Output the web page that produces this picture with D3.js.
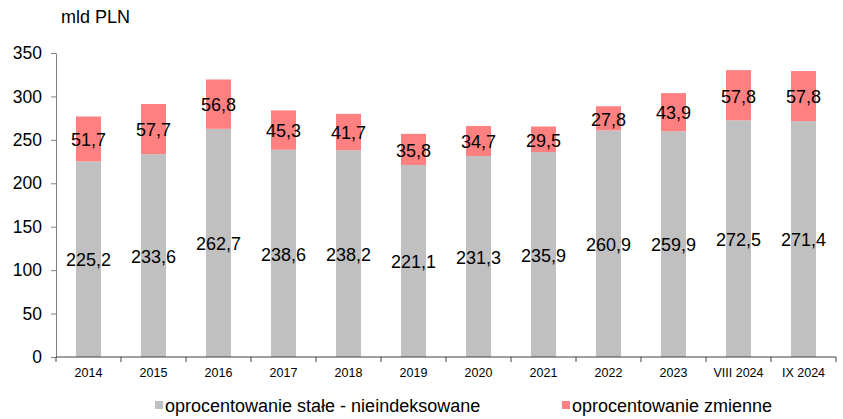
<!DOCTYPE html>
<html>
<head>
<meta charset="utf-8">
<script src="https://cdn.jsdelivr.net/npm/d3@7"></script>
<style>
  body { margin: 0; background: #fff; }
  svg { font-family: "Liberation Sans", Arial, sans-serif; }
</style>
</head>
<body>
<div id="chart"></div>
<script>
const categories = ["2014", "2015", "2016", "2017", "2018", "2019", "2020", "2021", "2022", "2023", "VIII 2024", "IX 2024"];
const fixedRate = [225.2, 233.6, 262.7, 238.6, 238.2, 221.1, 231.3, 235.9, 260.9, 259.9, 272.5, 271.4];
const variableRate = [51.7, 57.7, 56.8, 45.3, 41.7, 35.8, 34.7, 29.5, 27.8, 43.9, 57.8, 57.8];
const yTicks = [0, 50, 100, 150, 200, 250, 300, 350];
const seriesNames = ["oprocentowanie stałe - nieindeksowane", "oprocentowanie zmienne"];
const colors = ["#c0c0c0", "#ff8080"];

const W = 843, H = 419;
const margin = { top: 53, right: 7, bottom: 62, left: 56 };

const svg = d3.select("#chart").append("svg")
  .attr("width", W).attr("height", H);

const x = d3.scaleBand()
  .domain(categories)
  .range([margin.left, W - margin.right])
  .paddingInner(0.615).paddingOuter(0.3075);

const y = d3.scaleLinear().domain([0, 350]).range([H - margin.bottom, margin.top]);

const fmt = (v) => v.toFixed(1).replace(".", ",");

const rows = categories.map((c, i) => ({ cat: c, a: fixedRate[i], b: variableRate[i] }));

// grey segment
svg.selectAll("rect.fixed").data(rows).enter().append("rect")
  .attr("class", "fixed")
  .attr("x", (d) => x(d.cat))
  .attr("width", x.bandwidth())
  .attr("y", (d) => y(d.a))
  .attr("height", (d) => y(0) - y(d.a))
  .attr("fill", colors[0]);

// pink segment
svg.selectAll("rect.var").data(rows).enter().append("rect")
  .attr("class", "var")
  .attr("x", (d) => x(d.cat))
  .attr("width", x.bandwidth())
  .attr("y", (d) => y(d.a + d.b))
  .attr("height", (d) => y(d.a) - y(d.a + d.b))
  .attr("fill", colors[1]);

// value labels
const cx = (d) => x(d.cat) + x.bandwidth() / 2;
svg.selectAll("text.la").data(rows).enter().append("text")
  .attr("x", cx)
  .attr("y", (d) => y(d.a / 2) + 1)
  .attr("dy", "0.35em")
  .attr("text-anchor", "middle")
  .attr("font-size", 18)
  .text((d) => fmt(d.a));

svg.selectAll("text.lb").data(rows).enter().append("text")
  .attr("x", cx)
  .attr("y", (d) => y(d.a + d.b / 2) + 1)
  .attr("dy", "0.35em")
  .attr("text-anchor", "middle")
  .attr("font-size", 18)
  .text((d) => fmt(d.b));

// y axis
const yAxis = svg.append("g")
  .attr("transform", `translate(${margin.left},0)`)
  .call(d3.axisLeft(y).tickValues(yTicks).tickSize(5).tickPadding(9).tickSizeOuter(0));
yAxis.select(".domain").attr("stroke", "#808080");
yAxis.selectAll(".tick line").attr("stroke", "#808080");
yAxis.selectAll("text").attr("font-size", 17.5).attr("fill", "#000")
  .attr("font-family", "Liberation Sans, Arial, sans-serif");

// x axis with ticks between categories
const xg = svg.append("g");
xg.append("line")
  .attr("x1", margin.left).attr("x2", W - margin.right)
  .attr("y1", y(0)).attr("y2", y(0))
  .attr("stroke", "#404040");
const step = x.step();
const bounds = d3.range(categories.length + 1).map((i) => margin.left + i * step);
xg.selectAll("line.t").data(bounds).enter().append("line")
  .attr("x1", (d) => d).attr("x2", (d) => d)
  .attr("y1", y(0)).attr("y2", y(0) + 5)
  .attr("stroke", "#404040");
xg.selectAll("text").data(categories).enter().append("text")
  .attr("x", (d) => x(d) + x.bandwidth() / 2)
  .attr("y", y(0) + 20)
  .attr("text-anchor", "middle")
  .attr("font-size", 12.5)
  .text((d) => d);

// unit label
svg.append("text")
  .attr("x", 61).attr("y", 23)
  .attr("font-size", 18)
  .text("mld PLN");

// legend
const legendX = [155, 562];
const lg = svg.selectAll("g.leg").data(seriesNames).enter().append("g")
  .attr("transform", (d, i) => `translate(${legendX[i]},406)`);
lg.append("rect")
  .attr("x", 0).attr("y", -5).attr("width", 8).attr("height", 8)
  .attr("fill", (d, i) => colors[i]);
lg.append("text")
  .attr("x", 10).attr("y", 0).attr("dy", "0.35em")
  .attr("font-size", 18)
  .text((d) => d);
</script>
</body>
</html>
